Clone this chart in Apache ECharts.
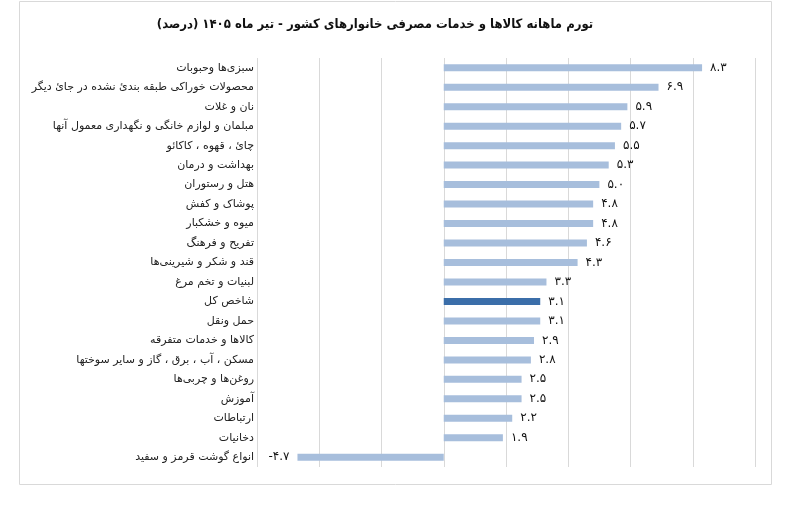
<!DOCTYPE html>
<html>
<head>
<meta charset="utf-8">
<script src="https://cdn.jsdelivr.net/npm/echarts@6/dist/echarts.min.js"></script>
<style>
    html, body { margin: 0; padding: 0; background: #fff; }
    #chart { width: 800px; height: 521px; }
</style>
</head>
<body>
<div id="chart"></div>
<script>
// categories, top to bottom
var categories = [
    'سبزی‌ها وحبوبات',
    'محصولات خوراکی طبقه بندیٔ نشده در جایٔ دیگر',
    'نان و غلات',
    'مبلمان و لوازم خانگی و نگهداری معمول آنها',
    'چایٔ ، قهوه ، کاکائو',
    'بهداشت و درمان',
    'هتل و رستوران',
    'پوشاک و کفش',
    'میوه و خشکبار',
    'تفریح و فرهنگ',
    'قند و شکر و شیرینی‌ها',
    'لبنیات و تخم مرغ',
    'شاخص کل',
    'حمل ونقل',
    'کالاها و خدمات متفرقه',
    'مسکن ، آب ، برق ، گاز و سایر سوختها',
    'روغن‌ها و چربی‌ها',
    'آموزش',
    'ارتباطات',
    'دخانیات',
    'انواع گوشت قرمز و سفید'
];
var inflation = [8.3, 6.9, 5.9, 5.7, 5.5, 5.3, 5.0, 4.8, 4.8, 4.6, 4.3, 3.3, 3.1, 3.1, 2.9, 2.8, 2.5, 2.5, 2.2, 1.9, -4.7];
var totalName = 'شاخص کل';

var chartTitle = 'تورم ماهانه کالاها و خدمات مصرفی خانوارهای کشور - تیر ماه ۱۴۰۵ (درصد)\u200F';

var persianDigits = '۰۱۲۳۴۵۶۷۸۹';
function toPersian(v) {
    return v.toFixed(1).replace(/[0-9]/g, function (d) {
        return persianDigits[+d];
    });
}

var barData = inflation.map(function (v, i) {
    return {
        value: v,
        itemStyle: { color: categories[i] === totalName ? '#3b6ea9' : '#a7bedc' },
        label: { position: v < 0 ? 'left' : 'right' }
    };
});

var chart = echarts.init(document.getElementById('chart'));
chart.setOption({
    animation: false,
    title: {
        text: chartTitle,
        left: 370,
        top: 13,
        textAlign: 'center',
        textStyle: {
            fontFamily: 'DejaVu Sans Condensed',
            fontSize: 13,
            fontWeight: 'bold',
            color: '#111'
        }
    },
    graphic: [{
        type: 'rect',
        shape: { x: 19.5, y: 1.5, width: 752, height: 483 },
        style: { fill: 'none', stroke: '#d9d9d9', lineWidth: 1 },
        silent: true
    }],
    grid: {
        left: 257,
        right: 45,
        top: 58,
        bottom: 54
    },
    xAxis: {
        type: 'value',
        min: -6,
        max: 10,
        interval: 2,
        axisLabel: { show: false },
        axisLine: { show: false },
        axisTick: { show: false },
        splitLine: { lineStyle: { color: '#d9d9d9' } }
    },
    yAxis: {
        type: 'category',
        inverse: true,
        data: categories,
        axisLine: { show: false },
        axisTick: { show: false },
        axisLabel: {
            margin: 3,
            fontFamily: 'DejaVu Sans',
            fontSize: 11,
            color: '#222'
        }
    },
    series: [{
        type: 'bar',
        data: barData,
        barWidth: 7,
        label: {
            show: true,
            distance: 8,
            fontFamily: 'DejaVu Sans',
            fontSize: 12,
            color: '#111',
            formatter: function (p) {
                return toPersian(p.value);
            }
        }
    }]
});
</script>
</body>
</html>
